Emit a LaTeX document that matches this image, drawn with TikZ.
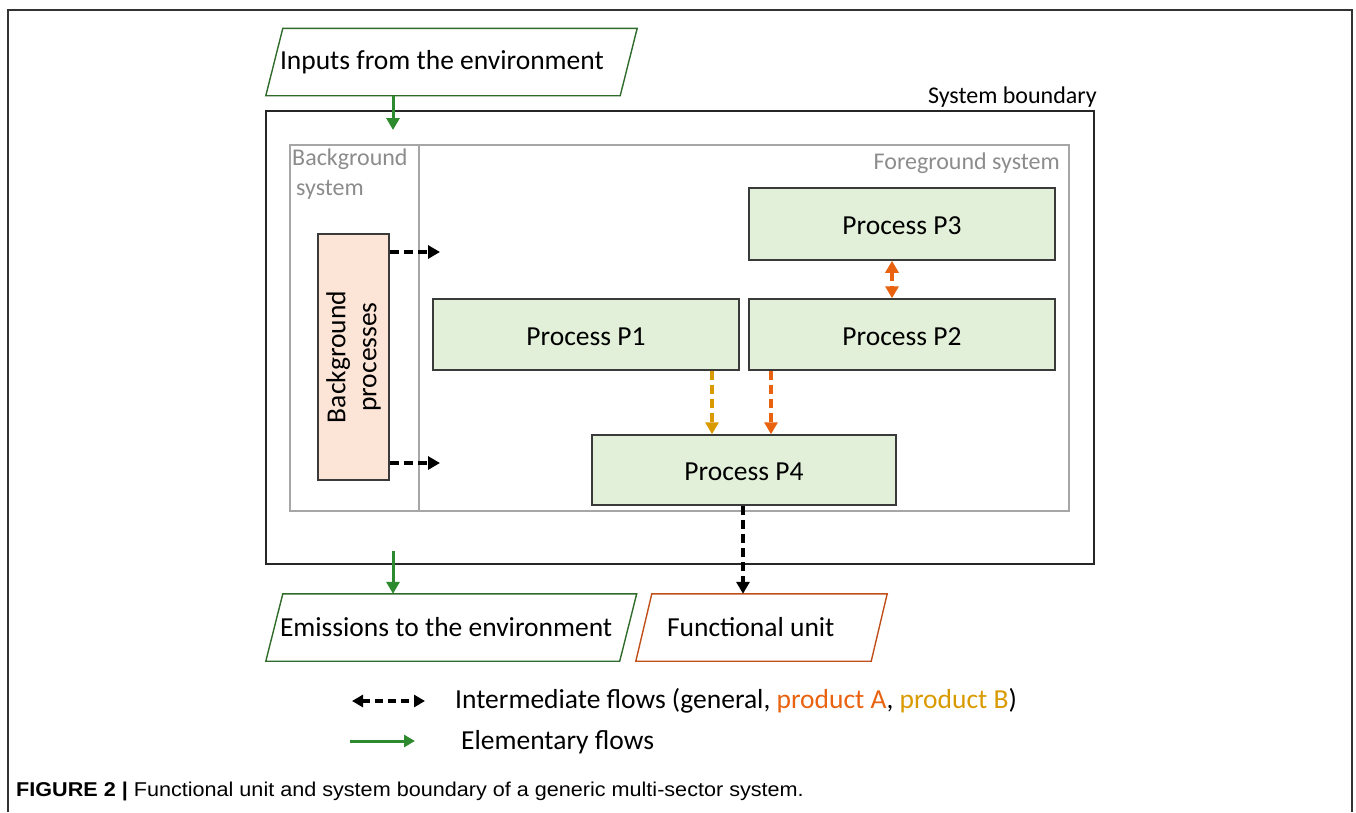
\documentclass[tikz,border=0pt]{standalone}
\usepackage{fontspec}
\setmainfont{Carlito}
\newfontfamily\capfont[FakeStretch=1.08]{Liberation Sans}
\usetikzlibrary{arrows.meta}

\definecolor{procfill}{HTML}{E2F0D9}
\definecolor{bgfill}{HTML}{FCE4D6}
\definecolor{boxline}{HTML}{3A3A3A}
\definecolor{envgreen}{HTML}{2F6B2A}
\definecolor{flowgreen}{HTML}{2E8A2E}
\definecolor{fuorange}{HTML}{C0501A}
\definecolor{prodA}{HTML}{E8620F}
\definecolor{prodB}{HTML}{D99A00}
\definecolor{sysgray}{HTML}{A6A6A6}
\definecolor{labgray}{HTML}{8C8C8C}

\tikzset{
  bigtext/.style={font=\fontsize{27.5}{31}\selectfont},
  smalltext/.style={font=\fontsize{24}{30}\selectfont},
  proc/.style={draw=boxline, line width=1.5pt, fill=procfill, inner sep=0pt,
    text height=21.5pt, text depth=0pt, bigtext},
  envbox/.style={inner sep=0pt, minimum height=67pt, align=flush left, bigtext},
  flowtip/.style={-{Triangle[length=12pt,width=13pt]}},
  inter/.style={line width=3.6pt, dash pattern=on 9pt off 5pt, flowtip},
  elem/.style={line width=3pt, flowgreen, flowtip},
}

% parallelogram drawn around a named node: #1 node, #2 colour, #3 horizontal half-slant
\newcommand{\slantbox}[3]{%
  \draw[#2, line width=1.4pt]
    ([xshift=-#3]#1.south west) -- ([xshift=-#3]#1.south east)
    -- ([xshift=#3]#1.north east) -- ([xshift=#3]#1.north west) -- cycle;}

\begin{document}
\begin{tikzpicture}[x=1pt, y=-1pt]
\useasboundingbox (0,0) rectangle (1356,812);

% page frame, open at the bottom
\draw[line width=2pt, black!80] (8,812) -- (8,10) -- (1352,10) -- (1352,812);

% system boundary and sub-systems
\node[draw=black!85, line width=1.6pt, minimum width=828pt, minimum height=453pt, inner sep=0pt] (sysb) at (680,337.5) {};
\node[smalltext, anchor=east, inner sep=0pt] (sysblab) at (1097,97.5) {System boundary};
\node[draw=sysgray, line width=1.3pt, minimum width=129pt, minimum height=366pt, inner sep=0pt] (bgsys) at (354.5,328) {};
\node[draw=sysgray, line width=1.3pt, minimum width=650pt, minimum height=366pt, inner sep=0pt] (fgsys) at (744,328) {};
\node[smalltext, text=labgray, anchor=north west, align=left, inner sep=0pt] (bgsyslab) at (292,149) {Background\\\hspace*{4pt}system};
\node[smalltext, text=labgray, anchor=east, inner sep=0pt] (fgsyslab) at (1060,163.5) {Foreground system};

% processes
\node[draw=boxline, line width=1.5pt, fill=bgfill, minimum width=71pt, minimum height=246pt, inner sep=0pt] (bg) at (353.5,357) {};
\node[bigtext, rotate=90, align=center, inner sep=0pt] (bglab) at (bg.center) {Background\\processes};
\node[proc, minimum width=306pt, minimum height=72pt] (p3) at (902,224) {Process P3};
\node[proc, minimum width=306pt, minimum height=71pt] (p1) at (586,334.5) {Process P1};
\node[proc, minimum width=306pt, minimum height=71pt] (p2) at (902,334.5) {Process P2};
\node[proc, minimum width=304pt, minimum height=70pt] (p4) at (744,470) {Process P4};

% environment and functional unit
\node[envbox, text width=343pt, inner xsep=5.5pt] (inputs) at (451.5,62) {Inputs from the environment};
\slantbox{inputs}{envgreen}{8.5pt}
\node[envbox, text width=342.5pt, inner xsep=5.5pt] (emis) at (451.25,627.5) {Emissions to the environment};
\slantbox{emis}{envgreen}{8.5pt}
\node[envbox, text width=189pt, inner xsep=23pt] (fu) at (761.5,627.5) {Functional unit};
\slantbox{fu}{fuorange}{8pt}

% flows
\coordinate (inend) at (393,130);
\draw[elem] (inputs.south -| inend) -- (inend);
\coordinate (emstart) at (393,551);
\draw[elem] (emstart) -- (emstart |- emis.north);

\coordinate (bgoutA) at (440,252);
\coordinate (bgoutB) at (440,463);
\draw[inter] (bg.east |- bgoutA) -- (bgoutA);
\draw[inter] (bg.east |- bgoutB) -- (bgoutB);

\draw[inter, prodA, {Triangle[length=12pt,width=13pt]}-{Triangle[length=12pt,width=13pt]}]
  ([xshift=-10pt]p3.south) -- ([xshift=-10pt]p3.south |- p2.north);
\draw[inter, prodB] ([xshift=126pt]p1.south) -- ([xshift=126pt]p1.south |- p4.north);
\draw[inter, prodA] ([xshift=-131pt]p2.south) -- ([xshift=-131pt]p2.south |- p4.north);
\draw[inter] ([xshift=-1pt]p4.south) -- ([xshift=-1pt]p4.south |- fu.north);

% legend
\coordinate (legIa) at (352,701);
\coordinate (legIb) at (425,701);
\draw[line width=3.4pt, dash pattern=on 8pt off 5pt,
  {Triangle[length=11pt,width=12pt]}-{Triangle[length=11pt,width=12pt]}] (legIa) -- (legIb);
\node[bigtext, anchor=west, inner sep=0pt] (legItext) at (455,700.5)
  {Intermediate flows (general, \textcolor{prodA}{product A}, \textcolor{prodB}{product B})};
\coordinate (legEa) at (350,741);
\coordinate (legEb) at (415,741);
\draw[elem, -{Triangle[length=11pt,width=12pt]}] (legEa) -- (legEb);
\node[bigtext, anchor=west, inner sep=0pt] (legEtext) at (461,742) {Elementary flows};

% caption
\node[anchor=base west, inner sep=0pt, font=\capfont\fontsize{20}{22}\selectfont] (caption) at (16,796)
  {\textbf{FIGURE 2 |} Functional unit and system boundary of a generic multi-sector system.};
\end{tikzpicture}
\end{document}
